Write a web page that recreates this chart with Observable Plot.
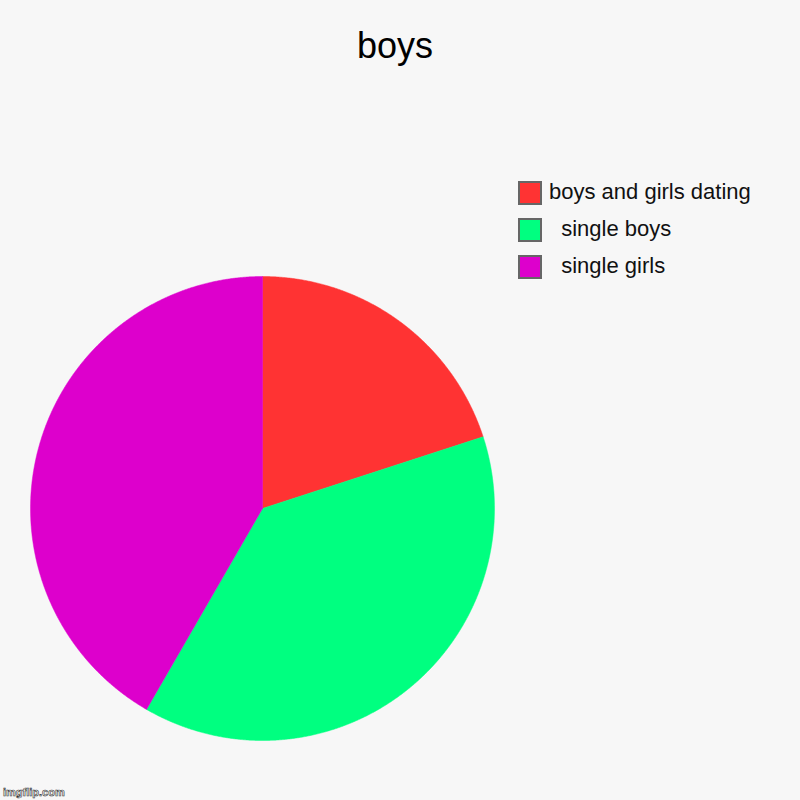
<!DOCTYPE html>
<html>
<head>
<meta charset="utf-8">
<script src="https://cdn.jsdelivr.net/npm/d3@7"></script>
<script src="https://cdn.jsdelivr.net/npm/@observablehq/plot@0.6"></script>
<style>
  html, body { margin: 0; padding: 0; background: #f7f7f7; }
  #wrap { position: relative; width: 800px; height: 800px; background: #f7f7f7; font-family: "Liberation Sans", Arial, sans-serif; }
  #title { position: absolute; left: 0; width: 790px; top: 26px; text-align: center; font-size: 36px; color: #000; line-height: 40px; }
  #legend { position: absolute; left: 518px; top: 180px; }
  .row { position: relative; height: 37px; }
  .sw { position: absolute; left: 0; top: 1px; width: 20px; height: 20px; border: 2px solid #666; }
  .lab { position: absolute; left: 31px; top: 0px; font-size: 22px; line-height: 24px; color: #111; white-space: pre; }
  #wm { position: absolute; left: 3px; bottom: 2px; font-size: 11px; font-weight: bold; color: #fff; -webkit-text-stroke: 0.6px #333; font-family: "Liberation Sans", Arial, sans-serif; }
  svg { position: absolute; left: 0; top: 0; }
</style>
</head>
<body>
<div id="wrap">
  <div id="chart"></div>
  <div id="title"></div>
  <div id="legend"></div>
  <div id="wm">imgflip.com</div>
</div>
<script>
const title = "boys";
const categories = ["boys and girls dating", "single boys", "single girls"];
const legendLabels = ["boys and girls dating", "  single boys", "  single girls"];
const values = [12, 23, 25];
const colors = ["#ff3333", "#00ff80", "#dd00cc"];

document.getElementById("title").textContent = title;

// layout (pixels)
const W = 800, H = 800, cx = 262, cy = 508, R = 232;

// build slice polygons in unit coordinates (clockwise from top)
const total = d3.sum(values);
const rows = [];
let start = 0;
categories.forEach((c, i) => {
  const span = values[i] / total * 2 * Math.PI;
  const end = start + span;
  rows.push({cat: c, u: 0, v: 0});
  const n = Math.max(2, Math.ceil(span / (Math.PI / 720)));
  for (let k = 0; k <= n; k++) {
    const a = start + span * k / n;
    rows.push({cat: c, u: Math.sin(a), v: Math.cos(a)});
  }
  rows.push({cat: c, u: 0, v: 0});
  start = end;
});

const chart = Plot.plot({
  width: W, height: H,
  margin: 0,
  style: {background: "transparent"},
  x: {domain: [-cx / R, (W - cx) / R], axis: null},
  y: {domain: [(cy - H) / R, cy / R], axis: null},
  color: {domain: categories, range: colors},
  marks: [
    Plot.line(rows, {x: "u", y: "v", z: "cat", fill: "cat", stroke: "cat", strokeWidth: 0.5, curve: "linear"})
  ]
});
document.getElementById("chart").appendChild(chart);

const leg = document.getElementById("legend");
categories.forEach((c, i) => {
  const row = document.createElement("div");
  row.className = "row";
  const sw = document.createElement("div");
  sw.className = "sw";
  sw.style.background = colors[i];
  const lab = document.createElement("div");
  lab.className = "lab";
  lab.textContent = legendLabels[i];
  row.appendChild(sw); row.appendChild(lab);
  leg.appendChild(row);
});
</script>
</body>
</html>
